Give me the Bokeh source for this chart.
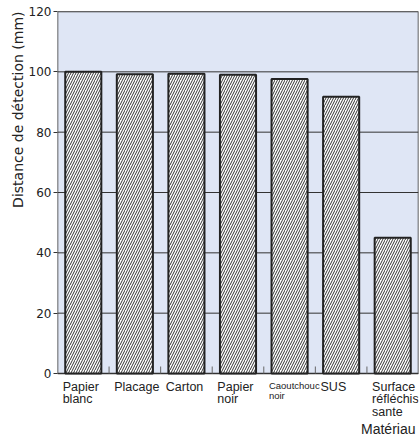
import numpy as np
from bokeh.plotting import figure
from bokeh.models import Range1d, FixedTicker, ColumnDataSource, Title
from bokeh.core.properties import value
from bokeh.embed import file_html
from bokeh.resources import INLINE

# ---- data ----
categories = ["Papier\nblanc", "Placage", "Carton", "Papier\nnoir",
              "Caoutchouc\nnoir", "SUS", "Surface\nréfléchis\nsante"]
distances = [100, 99.2, 99.4, 99.0, 97.6, 91.7, 45.0]
y_ticks = [0, 20, 40, 60, 80, 100, 120]
y_label = "Distance de détection (mm)"
x_label = "Matériau"

FONT = "DejaVu Sans"
LFONT = "Liberation Sans"
n = len(categories)
centers = np.arange(n) + 0.5
y_top = max(y_ticks)

# frame geometry (pixels)
W, H = 419, 440
left, top, right = 57, 11, 1
plot_px = 362                      # pixel height of 0..120
frame_h = H - top
y_bottom = -y_top * (frame_h - plot_px) / plot_px
px_per_unit = plot_px / y_top

p = figure(width=W, height=H, output_backend="svg", toolbar_location=None,
           x_range=Range1d(0, n), y_range=Range1d(y_bottom, y_top),
           min_border_left=left, min_border_right=right, min_border_top=top,
           min_border_bottom=0)

p.background_fill_color = "white"
p.border_fill_color = "white"
p.outline_line_color = None
p.xgrid.grid_line_color = None
p.ygrid.grid_line_color = None
p.xaxis.visible = False

# plot area background with border
p.quad(left=[0], right=[n], bottom=[0], top=[y_top],
       fill_color="#dfe6f5", line_color="#333333", line_width=1.5)

# horizontal grid lines
p.segment(x0=[0] * len(y_ticks), x1=[n] * len(y_ticks), y0=y_ticks, y1=y_ticks,
          line_color="#333333", line_width=1)

# boundary ticks on the category axis
bounds = list(range(1, n))
p.segment(x0=bounds, x1=bounds, y0=[0] * len(bounds),
          y1=[7 / px_per_unit] * len(bounds), line_color="#666666", line_width=1)

# bars
src = ColumnDataSource(dict(x=centers, top=distances))
p.vbar(x="x", top="top", width=0.7, source=src, fill_color="white",
       line_color="#222222", line_width=2,
       hatch_pattern="/", hatch_color="#333333", hatch_scale=5, hatch_weight=1)

# y axis
p.yaxis.ticker = FixedTicker(ticks=y_ticks)
p.yaxis.major_tick_out = 4
p.yaxis.major_tick_in = 0
p.yaxis.minor_tick_line_color = None
p.yaxis.major_label_text_font = FONT
p.yaxis.major_label_text_font_size = "12px"
p.yaxis.major_label_text_color = "#222222"
p.yaxis.major_label_standoff = 2
p.yaxis.axis_line_color = None
p.yaxis.major_tick_line_color = "#333333"

p.add_layout(Title(text=y_label, align="right", text_font=FONT,
                   text_font_size="14px", text_font_style="normal",
                   text_color="#222222", standoff=0), "left")

# category labels
sizes = ["9.5px" if c.startswith("Caoutchouc") else "12.5px" for c in categories]
lab = ColumnDataSource(dict(x=centers - 0.4, y=[0] * n, text=categories, size=sizes))
p.text(x="x", y="y", text="text", source=lab, text_font=value(LFONT),
       text_font_size="size", text_align="left", text_baseline="top",
       text_line_height=0.92, text_color="#222222", y_offset=6)

p.text(x=[n], y=[0], text=[x_label], text_font=value(LFONT), text_font_size="14px",
       text_align="right", text_baseline="top", text_color="#222222",
       x_offset=-3, y_offset=47)

open("out.html", "w").write(file_html(p, INLINE))
